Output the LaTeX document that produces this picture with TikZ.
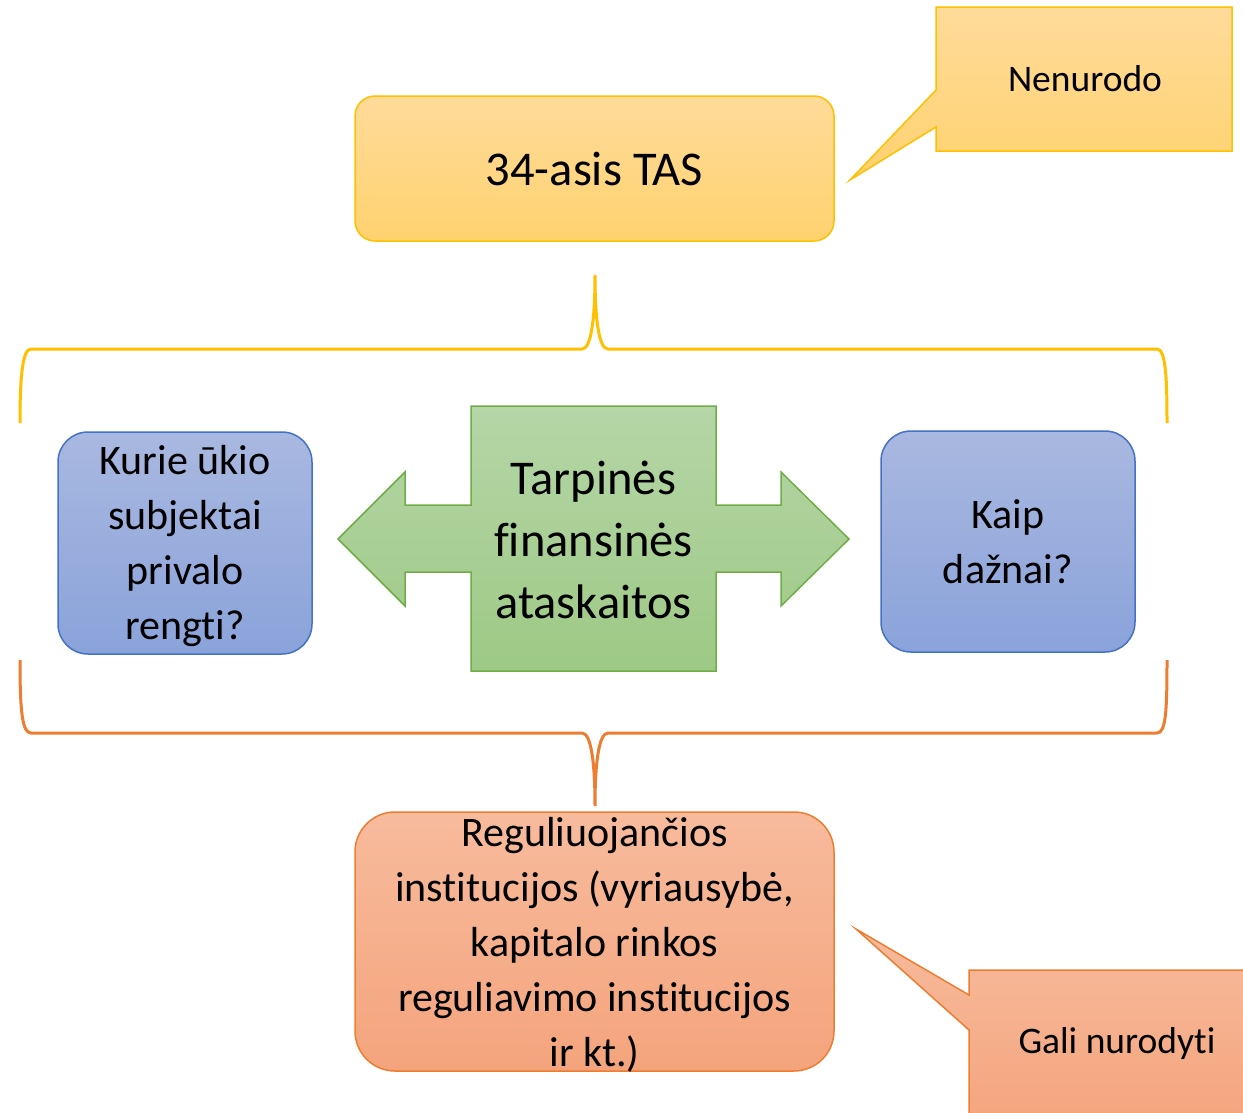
\documentclass[tikz,border=0pt]{standalone}
\usepackage{fontspec}
\setmainfont{Carlito}[Ligatures={NoCommon,NoContextual,NoRequired}]
\definecolor{ytop}{HTML}{FFDB9A}
\definecolor{ybot}{HTML}{FFD26F}
\definecolor{ybord}{HTML}{FFC000}
\definecolor{btop}{HTML}{A9B8E0}
\definecolor{bbot}{HTML}{8AA3DA}
\definecolor{bbord}{HTML}{4472C4}
\definecolor{gtop}{HTML}{B5D6A7}
\definecolor{gbot}{HTML}{9DC985}
\definecolor{gbord}{HTML}{70AD47}
\definecolor{otop}{HTML}{F7BB9D}
\definecolor{obot}{HTML}{F4A47C}
\definecolor{obord}{HTML}{ED7D31}
\begin{document}
\begin{tikzpicture}[x=1pt,y=-1pt,
  txt/.style={inner sep=0pt, align=center, text=black},
  ybox/.style={draw=ybord, line width=1.5pt, top color=ytop, bottom color=ybot, rounded corners=20pt, inner sep=0pt, align=center},
  bbox/.style={draw=bbord, line width=1.5pt, top color=btop, bottom color=bbot, rounded corners=30pt, inner sep=0pt, align=center, minimum width=254pt},
  obox/.style={draw=obord, line width=1.5pt, top color=otop, bottom color=obot, rounded corners=40pt, inner sep=0pt, align=center},
  ycall/.style={draw=ybord, line width=1.5pt, top color=ytop, bottom color=ybot},
  ocall/.style={draw=obord, line width=1.5pt, top color=otop, bottom color=obot},
  garrow/.style={draw=gbord, line width=1.5pt, top color=gtop, bottom color=gbot},
  ybrace/.style={draw=ybord, line width=3pt},
  obrace/.style={draw=obord, line width=3pt},
  big/.style={font=\fontsize{48.5}{62}\selectfont},
  mid/.style={font=\fontsize{42}{55}\selectfont},
  small/.style={font=\fontsize{37.5}{44}\selectfont}
]
\useasboundingbox (0,0) rectangle (1243,1112);
\fill[white] (0,0) rectangle (1243,1112);

% top callout
\path[ycall] (936,7) -- (1232,7) -- (1232,151) -- (936,151) -- (936,127) -- (850,180) -- (936,90) -- cycle;
\node[txt, small] (nenurodo) at (1085,79) {Nenurodo};

% top box
\node[ybox, big, minimum width=479pt, minimum height=145pt] (tas) at (594.5,168.5) {34-asis TAS};

% top brace
\coordinate (ytip) at (595,275);
\path[ybrace] (20,423) .. controls (20,380) and (22,349) .. (31,349) -- (582,349)
  .. controls (591,349) and (595,320) .. (ytip)
  .. controls (595,320) and (599,349) .. (608,349) -- (1157,349)
  .. controls (1166,349) and (1167,380) .. (1167,423);

% green double arrow
\path[garrow] (471,406) -- (716,406) -- (716,505) -- (781,505) -- (781,472) -- (849,539)
  -- (781,606) -- (781,572) -- (716,572) -- (716,671) -- (471,671) -- (471,572)
  -- (405,572) -- (405,606) -- (338,539) -- (405,472) -- (405,505) -- (471,505) -- cycle;
\node[txt, big] (tfa) at (593.5,540) {Tarpinės\\finansinės\\ataskaitos};

% blue boxes
\node[bbox, minimum height=222pt] (kurie) at (185,543) {};
\node[txt, mid] (kurietxt) at (185,546.5) {Kurie ūkio\\subjektai\\privalo\\rengti?};
\node[bbox, mid, minimum height=221pt] (kaip) at (1008,541.5) {Kaip\\dažnai?};

% bottom brace
\coordinate (otip) at (595,806);
\path[obrace] (20,660) .. controls (20,710) and (22,733) .. (31,733) -- (582,733)
  .. controls (591,733) and (595,762) .. (otip)
  .. controls (595,762) and (599,733) .. (608,733) -- (1157,733)
  .. controls (1166,733) and (1167,710) .. (1167,660);

% orange box
\node[obox, minimum width=479pt, minimum height=259pt] (reg) at (594.5,941.5) {};
\node[txt, mid] (regtxt) at (594.5,945) {Reguliuojančios\\institucijos (vyriausybė,\\kapitalo rinkos\\reguliavimo institucijos\\ir kt.)};

% bottom callout
\path[ocall] (969,970) -- (1262,970) -- (1262,1130) -- (969,1130) -- (969,1030) -- (856,929) -- (969,995) -- cycle;
\node[txt, small] (gali) at (1117,1043) {Gali nurodyti};
\end{tikzpicture}
\end{document}
